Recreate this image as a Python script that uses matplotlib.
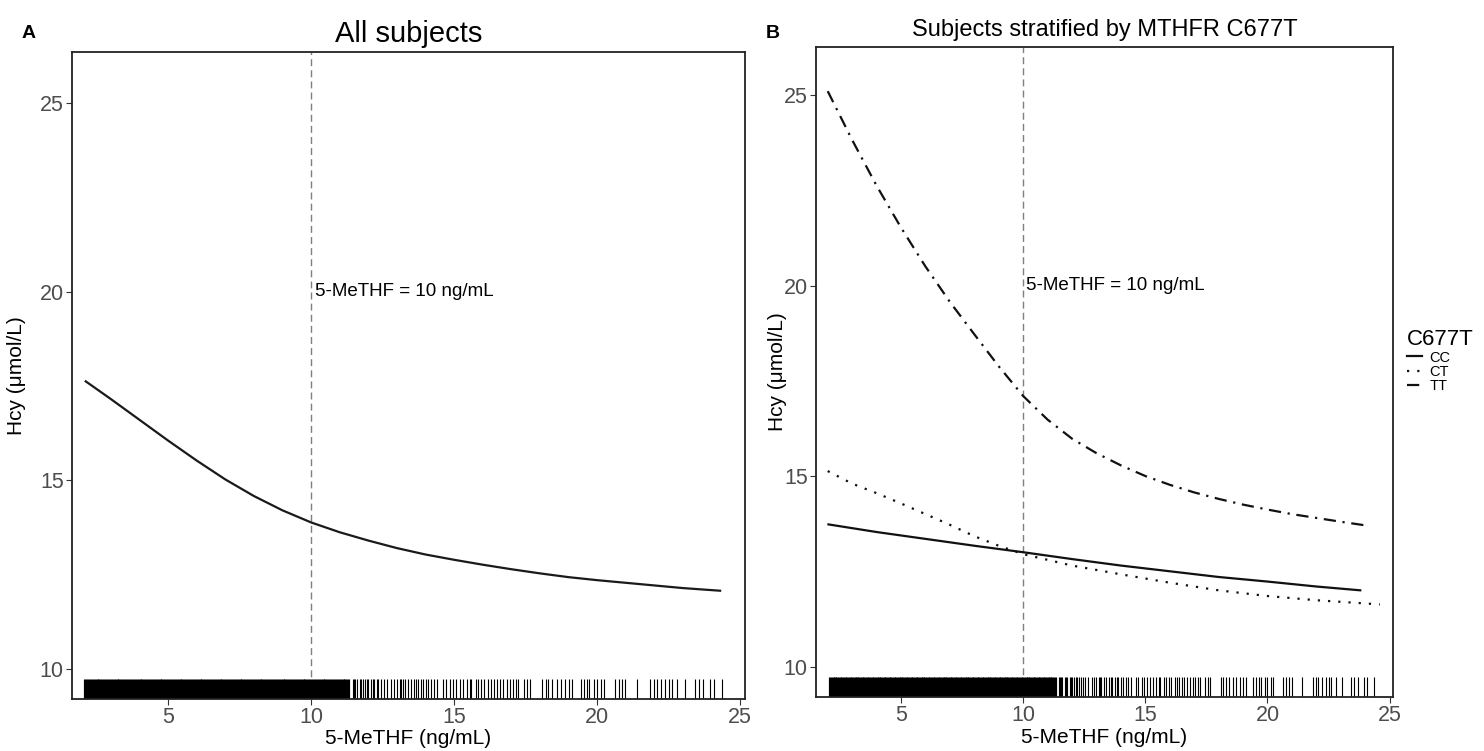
import matplotlib
matplotlib.use("Agg")
import matplotlib.pyplot as plt

plt.rcParams['font.family'] = ['Liberation Sans Narrow', 'Liberation Sans', 'DejaVu Sans']

# spline fits
x_all = [2.12, 3, 4, 5, 6, 7, 8, 9, 10, 11, 12, 13, 14, 15, 16, 17, 18, 19,
         20, 21, 22, 23, 24.3]
hcy_all = [17.62, 17.15, 16.6, 16.05, 15.52, 15.02, 14.58, 14.2, 13.88, 13.62,
           13.4, 13.2, 13.03, 12.89, 12.76, 12.64, 12.53, 12.43, 12.35, 12.28,
           12.21, 12.14, 12.07]

x_cc = [2.03, 4, 6, 8, 10, 12, 14, 16, 18, 20, 22, 23.8]
hcy_cc = [13.73, 13.53, 13.35, 13.17, 13.0, 12.82, 12.65, 12.5, 12.35, 12.23, 12.1, 12.0]

x_ct = [2.0, 3, 4, 5, 6, 7, 8, 9, 10, 12, 14, 16, 18, 20, 22, 24.6]
hcy_ct = [15.13, 14.8, 14.55, 14.28, 14.0, 13.72, 13.42, 13.17, 12.95,
          12.65, 12.42, 12.2, 12.0, 11.85, 11.74, 11.63]

x_tt = [2.0, 3, 4, 5, 6, 7, 8, 9, 10, 11, 12, 13, 14, 15, 16, 17, 18, 19, 20,
        21, 22, 23, 24.06]
hcy_tt = [25.1, 23.82, 22.62, 21.52, 20.5, 19.57, 18.72, 17.88, 17.1, 16.48,
          15.98, 15.6, 15.28, 15.0, 14.77, 14.57, 14.4, 14.25, 14.12, 14.0,
          13.9, 13.8, 13.7]

# rug: the densely packed part (reads as solid black) and the separate ticks
rug_dense = [2.1, 2.2, 2.3, 2.4, 2.5, 2.6, 2.7, 2.8, 2.9, 3.0, 3.1, 3.2, 3.3, 3.4,
             3.5, 3.6, 3.7, 3.8, 3.9, 4.0, 4.1, 4.2, 4.3, 4.4, 4.5, 4.6, 4.7, 4.8,
             4.9, 5.0, 5.1, 5.2, 5.3, 5.4, 5.5, 5.6, 5.7, 5.8, 5.9, 6.0, 6.1, 6.2,
             6.3, 6.4, 6.5, 6.6, 6.7, 6.8, 6.9, 7.0, 7.1, 7.2, 7.3, 7.4, 7.5, 7.6,
             7.7, 7.8, 7.9, 8.0, 8.1, 8.2, 8.3, 8.4, 8.5, 8.6, 8.7, 8.8, 8.9, 9.0,
             9.1, 9.2, 9.3, 9.4, 9.5, 9.6, 9.7, 9.8, 9.9, 10.0, 10.1, 10.2, 10.3,
             10.4, 10.5, 10.6, 10.7, 10.8, 10.9, 11.0, 11.1, 11.2, 11.3]
rug_sparse = [11.45, 11.5, 11.55, 11.6, 11.7, 11.75, 11.8, 11.9, 11.95, 12.0,
              12.1, 12.15, 12.2, 12.3, 12.35, 12.45, 12.55, 12.65, 12.8, 12.9,
              13.0, 13.1, 13.15, 13.2, 13.3, 13.4, 13.5, 13.6, 13.65, 13.75,
              13.85, 13.9, 14.0, 14.1, 14.2, 14.3, 14.4, 14.6, 14.7, 14.85,
              14.95, 15.05, 15.2, 15.3, 15.45, 15.55, 15.6, 15.75, 15.85, 15.95,
              16.05, 16.2, 16.3, 16.4, 16.5, 16.6, 16.7, 16.85, 16.95, 17.05,
              17.15, 17.25, 17.44, 17.56, 17.64, 18.08, 18.2, 18.29, 18.43, 18.6,
              18.72, 18.87, 19.01, 19.13, 19.42, 19.53, 19.65, 19.73, 19.88, 20.0,
              20.15, 20.23, 20.64, 20.76, 20.87, 20.99, 21.4, 21.86, 21.98, 22.09,
              22.24, 22.38, 22.5, 22.62, 22.79, 23.06, 23.43, 23.55, 23.69, 23.95,
              24.07, 24.36]

x_ticks = [5, 10, 15, 20, 25]
y_ticks = [10, 15, 20, 25]
cutoff = 10

W, H = 1484, 751
fig = plt.figure(figsize=(W / 100, H / 100), dpi=100)
axA = fig.add_axes([72 / W, 1 - 699 / H, (745 - 72) / W, (699 - 52) / H])
axB = fig.add_axes([816 / W, 1 - 697 / H, (1393 - 816) / W, (697 - 47) / H])


def style(ax, xlim, ylim):
    ax.set_xlim(*xlim)
    ax.set_ylim(*ylim)
    ax.set_xticks(x_ticks)
    ax.set_yticks(y_ticks)
    ax.tick_params(length=4, width=0.8, color='#333333', labelcolor='#4d4d4d',
                   labelsize=15.5, pad=2)
    for s in ax.spines.values():
        s.set_linewidth(1.3)
        s.set_color('#222222')
    ax.axvline(cutoff, color='#7f7f7f', lw=1.0, ls=(0, (5, 3)))
    ax.text(cutoff + 0.12, 20, '5-MeTHF = 10 ng/mL', fontsize=13.5,
            ha='left', va='center')
    tr = ax.get_xaxis_transform()
    ax.vlines(rug_dense, 0, 0.031, transform=tr, color='black', lw=2.3)
    ax.vlines(rug_sparse, 0, 0.031, transform=tr, color='black', lw=0.8)
    ax.set_xlabel('5-MeTHF (ng/mL)', fontsize=15)
    ax.set_ylabel('Hcy (\u03bcmol/L)', fontsize=15)


# panel A
style(axA, (1.64, 25.17), (9.2, 26.35))
axA.plot(x_all, hcy_all, color='#1a1a1a', lw=1.6)
axA.set_title('All subjects', fontsize=21, pad=7)
axA.xaxis.set_label_coords(0.5, -0.047)
axA.yaxis.set_label_coords(-0.068, 0.5)

# panel B
style(axB, (1.52, 25.14), (9.2, 26.26))
axB.plot(x_cc, hcy_cc, color='#111111', lw=1.6, ls='-', label='CC')
axB.plot(x_ct, hcy_ct, color='#111111', lw=1.6, ls=(0, (1, 3.6)), label='CT')
axB.plot(x_tt, hcy_tt, color='#111111', lw=1.6, ls=(0, (5.5, 3, 1, 3)), label='TT')
axB.set_title('Subjects stratified by MTHFR C677T', fontsize=17, pad=8)
axB.xaxis.set_label_coords(0.5, -0.047)
axB.yaxis.set_label_coords(-0.05, 0.5)

leg = fig.legend(handles=axB.get_lines()[-3:], title='C677T', frameon=False,
                 loc='upper left', bbox_to_anchor=(1400 / W, 1 - 322 / H),
                 fontsize=10.5, title_fontsize=16, handlelength=1.0,
                 handletextpad=0.5, labelspacing=0.02, borderpad=0)
leg._legend_box.align = 'left'

fig.text(22 / W, 1 - 33 / H, 'A', fontsize=14, fontweight='bold', va='center')
fig.text(766 / W, 1 - 33 / H, 'B', fontsize=14, fontweight='bold', va='center')

fig.savefig('out.png', dpi=100)
